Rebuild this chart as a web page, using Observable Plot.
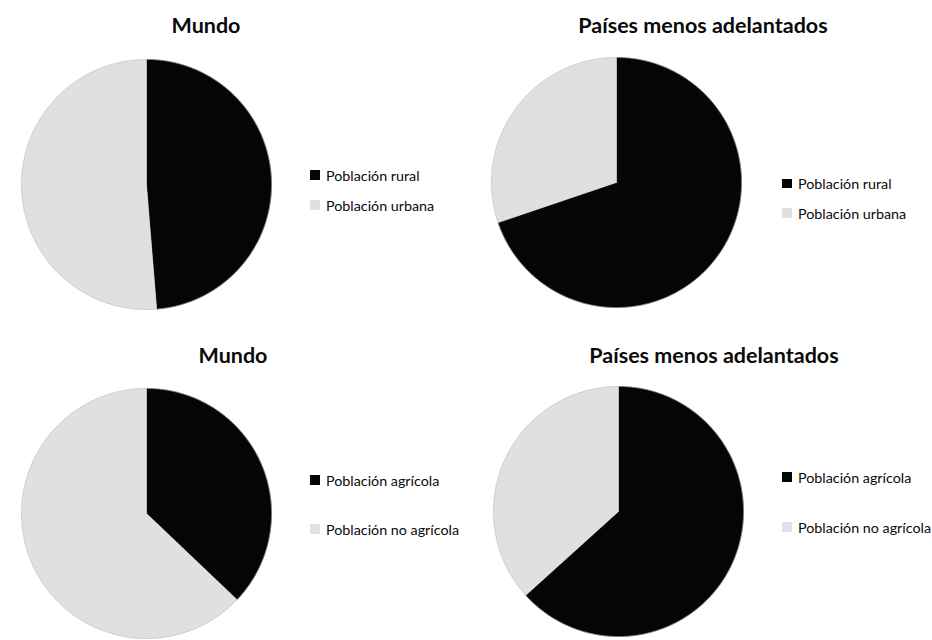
<!DOCTYPE html>
<html>
<head>
<meta charset="utf-8">
<script src="https://cdn.jsdelivr.net/npm/d3@7"></script>
<script src="https://cdn.jsdelivr.net/npm/@observablehq/plot@0.6"></script>
<style>
  html, body { margin: 0; padding: 0; background: #fff; }
  #root { position: relative; width: 932px; height: 640px; overflow: hidden; font-family: Lato, "Open Sans", sans-serif; color: #0a0a0a; }
  .title { position: absolute; width: 420px; text-align: center; font-weight: 700; font-size: 21.5px; line-height: 24px; white-space: nowrap; }
  .pie { position: absolute; }
  .row { position: absolute; display: flex; align-items: center; height: 18px; font-size: 14.3px; white-space: nowrap; }
  .sw { width: 9.5px; height: 9.5px; margin-right: 6.5px; }
</style>
</head>
<body>
<div id="root"></div>
<script>
// ---- data ----
const titles = ["Mundo", "Países menos adelantados", "Mundo", "Países menos adelantados"];
const ruralUrbanLabels = ["Población rural", "Población urbana"];
const agricolaLabels = ["Población agrícola", "Población no agrícola"];
const mundoRuralUrbana = [48.7, 51.3];
const pmaRuralUrbana = [69.8, 30.2];
const mundoAgricola = [37.1, 62.9];
const pmaAgricola = [63.3, 36.7];
const sliceColors = ["#050505", "#e0e0e0"];

// ---- layout (positions only) ----
const panels = [
  {title: titles[0], labels: ruralUrbanLabels, values: mundoRuralUrbana, cx: 146, cy: 184, tx: 206, ty: 13, lx: 310, ly: [175, 205]},
  {title: titles[1], labels: ruralUrbanLabels, values: pmaRuralUrbana, cx: 616, cy: 182, tx: 703, ty: 13, lx: 782, ly: [183.5, 213]},
  {title: titles[2], labels: agricolaLabels, values: mundoAgricola, cx: 146, cy: 513, tx: 233, ty: 343, lx: 310, ly: [480, 529]},
  {title: titles[3], labels: agricolaLabels, values: pmaAgricola, cx: 618, cy: 511, tx: 714, ty: 343, lx: 782, ly: [477, 527]}
];
const R = 125;
const root = document.getElementById("root");

function slicePolygons(labels, values) {
  const arcs = d3.pie().sort(null).value(d => d)(values);
  const pts = [];
  arcs.forEach((a, i) => {
    const n = Math.max(2, Math.ceil((a.endAngle - a.startAngle) / 0.01));
    pts.push({cat: labels[i], x: 0, y: 0});
    for (let k = 0; k <= n; k++) {
      const t = a.startAngle + (a.endAngle - a.startAngle) * k / n;
      pts.push({cat: labels[i], x: Math.sin(t), y: Math.cos(t)});
    }
    pts.push({cat: labels[i], x: 0, y: 0});
  });
  return pts;
}

panels.forEach(p => {
  const t = document.createElement("div");
  t.className = "title";
  t.textContent = p.title;
  t.style.left = (p.tx - 210) + "px";
  t.style.top = p.ty + "px";
  root.appendChild(t);

  const pts = slicePolygons(p.labels, p.values);
  const chart = Plot.plot({
    width: 2 * R + 4,
    height: 2 * R + 4,
    margin: 2,
    x: {domain: [-1, 1], axis: null},
    y: {domain: [-1, 1], axis: null},
    color: {domain: p.labels, range: sliceColors},
    marks: [
      Plot.line(pts, {x: "x", y: "y", z: "cat", fill: "cat", stroke: "cat", strokeWidth: 0.5, curve: "linear"}),
      Plot.line(pts.filter(d => d.x !== 0 || d.y !== 0), {x: "x", y: "y", z: "cat", stroke: "#b8b8b8", strokeOpacity: 0.5, strokeWidth: 1})
    ]
  });
  chart.classList.add("pie");
  chart.style.left = (p.cx - R - 2) + "px";
  chart.style.top = (p.cy - R - 2) + "px";
  root.appendChild(chart);

  p.labels.forEach((lab, i) => {
    const row = document.createElement("div");
    row.className = "row";
    row.style.left = p.lx + "px";
    row.style.top = (p.ly[i] - 9) + "px";
    const sw = document.createElement("span");
    sw.className = "sw";
    sw.style.background = sliceColors[i];
    const tx = document.createElement("span");
    tx.textContent = lab;
    row.appendChild(sw);
    row.appendChild(tx);
    root.appendChild(row);
  });
});
</script>
</body>
</html>
